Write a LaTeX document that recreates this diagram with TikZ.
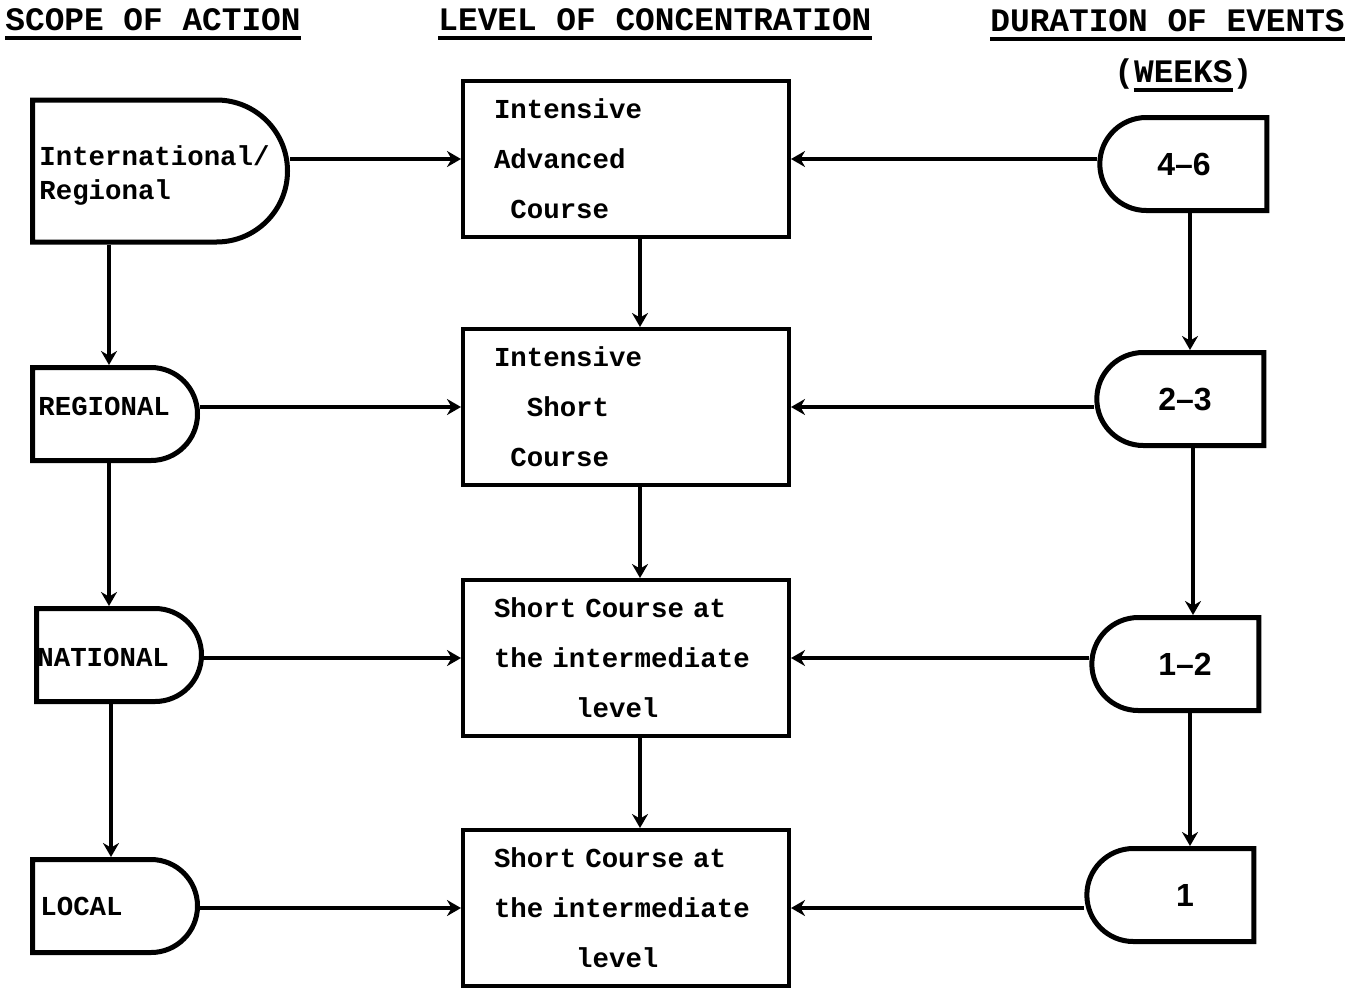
\documentclass[tikz,border=0pt]{standalone}
\usepackage{fontspec}
\setmonofont{Liberation Mono}
\setsansfont{Liberation Sans}
\usetikzlibrary{shapes.misc,arrows.meta,positioning}

\tikzset{scopebox/.style={draw, line width=2.5pt, rounded rectangle, rounded rectangle west arc=none, inner sep=0pt, minimum width=82.5pt, minimum height=46.5pt}}
\tikzset{weeks/.style={draw, line width=2.5pt, rounded rectangle, rounded rectangle east arc=none, inner sep=0pt, minimum width=83.5pt, minimum height=46.5pt, font=\sffamily\bfseries\fontsize{16}{19}\selectfont}}
\tikzset{course/.style={draw, line width=2pt, minimum width=163pt, minimum height=78pt, text width=132pt, align=left, font=\ttfamily\bfseries\fontsize{13.7}{25}\selectfont}}
\tikzset{lbl/.style={anchor=west, inner sep=0pt, align=left, font=\ttfamily\bfseries\fontsize{13.7}{17}\selectfont}}
\tikzset{hd/.style={anchor=base west, inner sep=0pt, font=\ttfamily\bfseries\fontsize{16.4}{20}\selectfont}}
\tikzset{ul/.style={line width=1.8pt}}
\tikzset{arr/.style={line width=2.2pt, -{Stealth[length=7pt,width=8pt]}}}

\begin{document}
\begin{tikzpicture}[x=0.5pt,y=-0.5pt]
\useasboundingbox (0,0) rectangle (1368,991);
% headings
\node[hd] (hscope) at (5,30) {SCOPE OF ACTION};
\node[hd] (hlevel) at (438,30) {LEVEL OF CONCENTRATION};
\node[hd] (hdur) at (990,31) {DURATION OF EVENTS};
\node[hd] (hweeks) at (1114,82) {(WEEKS)};
\draw[ul] ([yshift=-4pt]hscope.base west) -- ([yshift=-4pt]hscope.base east);
\draw[ul] ([yshift=-4pt]hlevel.base west) -- ([yshift=-4pt]hlevel.base east);
\draw[ul] ([yshift=-4pt]hdur.base west) -- ([yshift=-4pt]hdur.base east);
\draw[ul] ([xshift=9.8pt,yshift=-4pt]hweeks.base west) -- ([xshift=-9.8pt,yshift=-4pt]hweeks.base east);

% scope of action
\node[scopebox, minimum width=127.5pt, minimum height=71pt] (intl) at (160,171) {};
\node[scopebox] (regional) at (115,414) {};
\node[scopebox] (national) at (119,655) {};
\node[scopebox] (local) at (115,906) {};
\node[lbl] (tintl) at ([xshift=4.5pt,yshift=-2pt]intl.west) {International/\\Regional};
\node[lbl] (tregional) at ([xshift=4pt,yshift=4pt]regional.west) {REGIONAL};
\node[lbl] (tnational) at ([xshift=1.5pt,yshift=-1pt]national.west) {NATIONAL};
\node[lbl] (tlocal) at ([xshift=5pt]local.west) {LOCAL};

% level of concentration
\node[course] (adv) at (626,159) {Intensive\\Advanced\\\phantom{x}Course};
\node[course] (short) at (626,407) {Intensive\\\phantom{xx}Short\\\phantom{x}Course};
\node[course] (mid) at (626,658) {Short Course at\\the intermediate\\\phantom{xxxxx}level};
\node[course] (low) at (626,908) {Short Course at\\the intermediate\\\phantom{xxxxx}level};

% duration
\node[weeks] (w46) at (1184,164) {4--6};
\node[weeks] (w23) at (1181,399) {\hspace*{4pt}2--3};
\node[weeks] (w12) at (1176,664) {\hspace*{9pt}1--2};
\node[weeks] (w1) at (1171,895) {\hspace*{14pt}1};

\draw[arr] (intl.east |- adv.west) -- (adv.west);
\draw[arr] (regional.east |- short.west) -- (short.west);
\draw[arr] (national.east |- mid.west) -- (mid.west);
\draw[arr] (local.east |- low.west) -- (low.west);

\draw[arr] (w46.west |- adv.east) -- (adv.east);
\draw[arr] (w23.west |- short.east) -- (short.east);
\draw[arr] (w12.west |- mid.east) -- (mid.east);
\draw[arr] (w1.west |- low.east) -- (low.east);

\draw[arr] ([xshift=-3pt]intl.south -| regional.north) -- ([xshift=-3pt]regional.north);
\draw[arr] ([xshift=-3pt]regional.south) -- ([xshift=-3pt]regional.south |- national.north);
\draw[arr] ([xshift=-4pt]national.south) -- ([xshift=-4pt]national.south |- local.north);

\draw[arr] ([xshift=7pt]adv.south) -- ([xshift=7pt]short.north);
\draw[arr] ([xshift=7pt]short.south) -- ([xshift=7pt]mid.north);
\draw[arr] ([xshift=7pt]mid.south) -- ([xshift=7pt]low.north);

\draw[arr] ([xshift=3pt]w46.south) -- ([xshift=3pt]w46.south |- w23.north);
\draw[arr] ([xshift=6pt]w23.south) -- ([xshift=6pt]w23.south |- w12.north);
\draw[arr] ([xshift=7pt]w12.south) -- ([xshift=7pt]w12.south |- w1.north);
\end{tikzpicture}
\end{document}
